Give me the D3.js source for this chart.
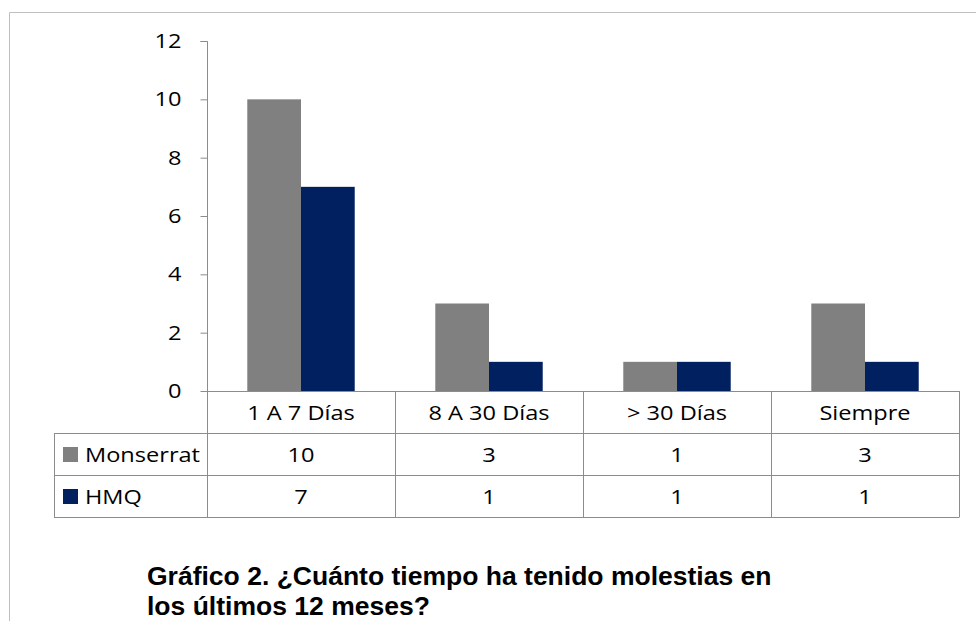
<!DOCTYPE html>
<html>
<head>
<meta charset="utf-8">
<script src="https://cdn.jsdelivr.net/npm/d3@7"></script>
<style>
  html, body { margin: 0; padding: 0; background: #fff; }
  svg { display: block; }
</style>
</head>
<body>
<svg id="chart" width="976" height="621"></svg>
<script>
// Categories, series and axis ticks
const categories = ["1 A 7 Días", "8 A 30 Días", "> 30 Días", "Siempre"];
const seriesNames = ["Monserrat", "HMQ"];
const monserrat = [10, 3, 1, 3];
const hmq = [7, 1, 1, 1];
const yTicks = [0, 2, 4, 6, 8, 10, 12];
const titleLines = ["Gráfico 2. ¿Cuánto tiempo ha tenido molestias en", "los últimos 12 meses?"];

const seriesValues = [monserrat, hmq];
const colors = ["#808080", "#002060"];

const svg = d3.select("#chart");
const font = "'Open Sans', Lato, sans-serif";
const fs = 20.5;
const sx = 1.15; // horizontal stretch of the label text

// Helper for a label with the stretched text style
function label(parent, x, yPos, txt, anchor) {
  return parent.append("text")
    .attr("transform", `translate(${x},${yPos}) scale(${sx},1)`)
    .attr("text-anchor", anchor || "start")
    .attr("font-family", font).attr("font-size", fs).attr("fill", "#000")
    .text(txt);
}

// Outer chart frame (top and left edges visible)
svg.append("path")
  .attr("d", "M9.5,621 L9.5,12.5 L976,12.5")
  .attr("fill", "none").attr("stroke", "#bfbfbf").attr("stroke-width", 1);

const plotLeft = 207, plotRight = 959, plotTop = 41, plotBottom = 391;

const x0 = d3.scaleBand().domain(categories).range([plotLeft, plotRight]).paddingInner(0).paddingOuter(0);
const y = d3.scaleLinear().domain([0, 12]).range([plotBottom, plotTop]);

// Bars: gap width 150% of a bar
const bw = x0.bandwidth() / 3.5;
const x1 = d3.scaleBand().domain(seriesNames).range([0, bw * 2]);

const g = svg.append("g");
categories.forEach((c, ci) => {
  seriesNames.forEach((s, si) => {
    const v = seriesValues[si][ci];
    g.append("rect")
      .attr("x", x0(c) + bw * 0.75 + x1(s))
      .attr("y", y(v))
      .attr("width", x1.bandwidth())
      .attr("height", y(0) - y(v))
      .attr("fill", colors[si]);
  });
});

// Y axis
const yAxis = d3.axisLeft(y).tickValues(yTicks).tickSize(7).tickFormat(d3.format("d"));
const ya = svg.append("g").attr("transform", `translate(${plotLeft + 0.5},0)`).call(yAxis);
ya.select(".domain").attr("stroke", "#8c8c8c").attr("d", `M-7,${plotTop + 0.5}H0V${plotBottom + 0.5}`);
ya.selectAll(".tick line").attr("stroke", "#8c8c8c");
ya.selectAll(".tick text")
  .attr("x", null)
  .attr("transform", `translate(-26,0) scale(${sx},1)`)
  .attr("font-family", font).attr("font-size", fs).attr("fill", "#000");

// Data table under the axis
const tableLeft = 54, rowH = 42;
const rows = [plotBottom, plotBottom + rowH, plotBottom + rowH * 2, plotBottom + rowH * 3];
const tg = svg.append("g").attr("stroke", "#8c8c8c").attr("stroke-width", 1).attr("fill", "none");
// horizontal lines
tg.append("line").attr("x1", plotLeft).attr("x2", plotRight).attr("y1", rows[0] + 0.5).attr("y2", rows[0] + 0.5);
[1, 2, 3].forEach(i => {
  tg.append("line").attr("x1", tableLeft).attr("x2", plotRight).attr("y1", rows[i] + 0.5).attr("y2", rows[i] + 0.5);
});
// vertical lines
tg.append("line").attr("x1", tableLeft + 0.5).attr("x2", tableLeft + 0.5).attr("y1", rows[1]).attr("y2", rows[3] + 0.5);
categories.forEach(c => {
  tg.append("line").attr("x1", Math.round(x0(c)) + 0.5).attr("x2", Math.round(x0(c)) + 0.5).attr("y1", rows[0]).attr("y2", rows[3] + 0.5);
});
tg.append("line").attr("x1", plotRight + 0.5).attr("x2", plotRight + 0.5).attr("y1", rows[0]).attr("y2", rows[3] + 0.5);

// Category labels
const lg = svg.append("g");
categories.forEach(c => label(lg, x0(c) + x0.bandwidth() / 2, rows[0] + rowH / 2 + 8, c, "middle"));

// Series rows: legend key, name and values
seriesNames.forEach((s, si) => {
  const top = rows[si + 1];
  svg.append("rect").attr("x", 63).attr("y", top + 14).attr("width", 15).attr("height", 15).attr("fill", colors[si]);
  label(lg, 85, top + rowH / 2 + 8, s);
  categories.forEach((c, ci) => {
    label(lg, x0(c) + x0.bandwidth() / 2, top + rowH / 2 + 8, seriesValues[si][ci], "middle");
  });
});

// Title
svg.append("g").selectAll("text").data(titleLines).join("text")
  .attr("transform", (d, i) => `translate(147,${585 + i * 29.5}) scale(1.02,1)`)
  .attr("font-family", "'Liberation Sans', Arial, sans-serif")
  .attr("font-weight", "bold").attr("font-size", 26).attr("fill", "#000")
  .text(d => d);
</script>
</body>
</html>
